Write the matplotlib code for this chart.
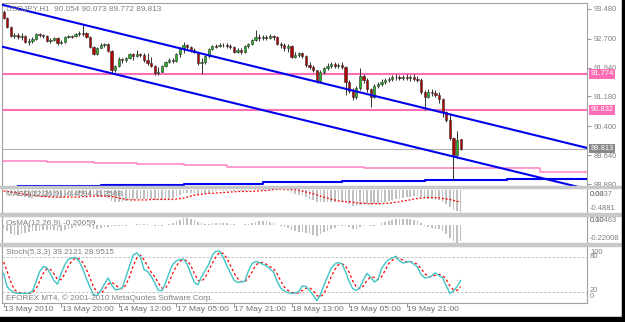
import matplotlib
matplotlib.use('Agg')
import matplotlib.pyplot as plt
import matplotlib.transforms as mtransforms
from matplotlib.patches import Rectangle
import numpy as np

# ---------------- data ----------------
opens = [93.40, 93.24, 93.00, 92.77, 92.79, 92.74, 92.77, 92.61, 92.64, 92.69,
         92.82, 92.79, 92.77, 92.64, 92.66, 92.71, 92.58, 92.61, 92.74, 92.77,
         92.77, 92.82, 92.85, 92.85, 92.74, 92.48, 92.29, 92.45, 92.53, 92.56,
         92.37, 91.87, 91.98, 92.16, 92.14, 92.19, 92.29, 92.24, 92.29, 92.27,
         92.14, 92.06, 91.98, 91.80, 91.82, 91.98, 92.08, 92.14, 92.11, 92.29,
         92.45, 92.53, 92.48, 92.40, 92.35, 92.06, 92.08, 92.24, 92.43, 92.50,
         92.50, 92.53, 92.53, 92.50, 92.48, 92.35, 92.40, 92.35, 92.50, 92.56,
         92.66, 92.74, 92.71, 92.74, 92.71, 92.77, 92.74, 92.56, 92.53, 92.45,
         92.50, 92.22, 92.27, 92.32, 92.24, 92.01, 91.95, 91.87, 91.59, 91.82,
         91.93, 91.98, 92.03, 91.98, 92.01, 91.95, 91.56, 91.32, 91.17, 91.40,
         91.72, 91.61, 91.38, 91.17, 91.45, 91.51, 91.56, 91.61, 91.64, 91.69,
         91.69, 91.66, 91.69, 91.66, 91.69, 91.64, 91.61, 91.30, 91.17, 91.30,
         91.27, 91.22, 91.11, 90.77, 90.56, 90.09, 89.64, 90.054]
closes = [93.24, 93.00, 92.77, 92.79, 92.74, 92.77, 92.61, 92.64, 92.69, 92.82,
          92.79, 92.77, 92.64, 92.66, 92.71, 92.58, 92.61, 92.74, 92.77, 92.75,
          92.82, 92.85, 92.83, 92.74, 92.48, 92.29, 92.45, 92.53, 92.56, 92.37,
          91.87, 91.98, 92.16, 92.14, 92.19, 92.29, 92.24, 92.29, 92.27, 92.14,
          92.06, 91.98, 91.80, 91.82, 91.98, 92.08, 92.14, 92.11, 92.29, 92.45,
          92.53, 92.48, 92.40, 92.35, 92.06, 92.08, 92.24, 92.43, 92.50, 92.49,
          92.53, 92.52, 92.50, 92.48, 92.35, 92.40, 92.35, 92.50, 92.56, 92.66,
          92.74, 92.71, 92.74, 92.71, 92.77, 92.74, 92.56, 92.53, 92.45, 92.50,
          92.22, 92.27, 92.32, 92.24, 92.01, 91.95, 91.87, 91.59, 91.82, 91.93,
          91.98, 92.03, 91.98, 92.01, 91.95, 91.56, 91.32, 91.17, 91.40, 91.72,
          91.61, 91.38, 91.17, 91.45, 91.51, 91.56, 91.61, 91.64, 91.69, 91.68,
          91.66, 91.69, 91.66, 91.69, 91.64, 91.61, 91.30, 91.17, 91.30, 91.27,
          91.22, 91.11, 90.77, 90.56, 90.09, 89.64, 90.04, 89.813]
highs = [93.45, 93.27, 93.03, 92.85, 92.85, 92.85, 92.79, 92.71, 92.74, 92.85,
         92.85, 92.82, 92.79, 92.71, 92.74, 92.74, 92.66, 92.77, 92.79, 92.79,
         92.85, 92.90, 93.06, 92.87, 92.77, 92.50, 92.48, 92.58, 92.58, 92.58,
         92.40, 92.01, 92.22, 92.19, 92.22, 92.32, 92.32, 92.40, 92.32, 92.32,
         92.32, 92.22, 92.01, 91.95, 92.01, 92.11, 92.19, 92.19, 92.32, 92.48,
         92.61, 92.56, 92.50, 92.45, 92.37, 92.19, 92.27, 92.45, 92.53, 92.56,
         92.58, 92.58, 92.58, 92.56, 92.50, 92.45, 92.45, 92.53, 92.58, 92.69,
         92.92, 92.82, 92.79, 92.79, 92.82, 92.79, 92.77, 92.61, 92.58, 92.56,
         92.53, 92.35, 92.35, 92.35, 92.27, 92.08, 92.01, 91.87, 91.87, 91.95,
         92.06, 92.08, 92.08, 92.06, 92.08, 91.98, 91.61, 91.40, 91.45, 91.93,
         91.77, 91.66, 91.40, 91.51, 91.56, 91.64, 91.66, 91.69, 91.74, 91.77,
         91.74, 91.74, 91.77, 91.74, 91.77, 91.72, 91.66, 91.35, 91.38, 91.38,
         91.35, 91.30, 91.14, 90.80, 90.75, 90.12, 90.27, 90.073]
lows = [93.21, 92.98, 92.74, 92.71, 92.69, 92.66, 92.58, 92.53, 92.58, 92.66,
        92.74, 92.71, 92.61, 92.58, 92.64, 92.53, 92.56, 92.58, 92.71, 92.71,
        92.74, 92.77, 92.77, 92.71, 92.45, 92.27, 92.27, 92.45, 92.48, 92.35,
        91.80, 91.82, 91.95, 92.06, 92.08, 92.16, 92.14, 92.22, 92.22, 92.08,
        92.01, 91.95, 91.74, 91.74, 91.82, 91.95, 92.06, 92.06, 92.08, 92.22,
        92.32, 92.43, 92.35, 92.32, 92.01, 91.77, 92.03, 92.19, 92.40, 92.45,
        92.48, 92.48, 92.45, 92.43, 92.32, 92.32, 92.29, 92.32, 92.45, 92.53,
        92.64, 92.64, 92.66, 92.66, 92.69, 92.66, 92.53, 92.45, 92.37, 92.35,
        92.19, 92.19, 92.22, 92.19, 91.95, 91.90, 91.82, 91.53, 91.56, 91.77,
        91.87, 91.93, 91.93, 91.93, 91.90, 91.22, 91.27, 91.09, 91.11, 91.35,
        91.53, 91.30, 90.90, 91.14, 91.40, 91.45, 91.51, 91.56, 91.59, 91.61,
        91.61, 91.61, 91.61, 91.59, 91.59, 91.56, 91.25, 90.82, 91.14, 91.19,
        91.17, 91.01, 90.64, 90.51, 90.04, 88.99, 89.56, 89.772]

macd_main = [-0.00, -0.03, -0.07, -0.10, -0.12, -0.13, -0.15, -0.16, -0.16, -0.15,
             -0.15, -0.15, -0.15, -0.15, -0.15, -0.16, -0.16, -0.15, -0.14, -0.13,
             -0.12, -0.11, -0.10, -0.10, -0.11, -0.14, -0.15, -0.15, -0.15, -0.17,
             -0.23, -0.25, -0.25, -0.25, -0.24, -0.22, -0.21, -0.20, -0.19, -0.19,
             -0.19, -0.20, -0.22, -0.22, -0.21, -0.19, -0.18, -0.16, -0.13, -0.10,
             -0.07, -0.06, -0.06, -0.06, -0.08, -0.09, -0.08, -0.06, -0.04, -0.03,
             -0.02, -0.02, -0.02, -0.02, -0.03, -0.03, -0.03, -0.02, -0.01, 0.00,
             0.02, 0.03, 0.04, 0.04, 0.04, 0.04, 0.02, 0.00, -0.02, -0.03,
             -0.06, -0.08, -0.10, -0.11, -0.15, -0.18, -0.21, -0.26, -0.26, -0.26,
             -0.26, -0.25, -0.25, -0.24, -0.23, -0.26, -0.30, -0.34, -0.34, -0.31,
             -0.29, -0.29, -0.31, -0.30, -0.29, -0.27, -0.25, -0.23, -0.21, -0.19,
             -0.18, -0.16, -0.15, -0.14, -0.13, -0.13, -0.15, -0.18, -0.19, -0.20,
             -0.21, -0.22, -0.26, -0.30, -0.36, -0.42, -0.44, -0.4594]
macd_signal = [-0.02, -0.03, -0.04, -0.05, -0.06, -0.08, -0.09, -0.10, -0.11, -0.12,
               -0.13, -0.14, -0.14, -0.15, -0.15, -0.15, -0.15, -0.15, -0.15, -0.15,
               -0.15, -0.15, -0.14, -0.14, -0.13, -0.13, -0.13, -0.13, -0.13, -0.13,
               -0.14, -0.15, -0.17, -0.18, -0.20, -0.21, -0.21, -0.21, -0.21, -0.21,
               -0.21, -0.20, -0.20, -0.20, -0.20, -0.20, -0.20, -0.20, -0.19, -0.18,
               -0.17, -0.15, -0.13, -0.11, -0.10, -0.09, -0.08, -0.07, -0.07, -0.06,
               -0.06, -0.05, -0.05, -0.04, -0.04, -0.03, -0.03, -0.03, -0.03, -0.03,
               -0.02, -0.02, -0.01, -0.01, 0.00, 0.01, 0.02, 0.02, 0.02, 0.02,
               0.01, 0.01, 0.00, -0.02, -0.04, -0.06, -0.08, -0.10, -0.13, -0.15,
               -0.17, -0.19, -0.21, -0.23, -0.24, -0.25, -0.25, -0.26, -0.27, -0.28,
               -0.28, -0.29, -0.29, -0.29, -0.29, -0.29, -0.28, -0.28, -0.27, -0.26,
               -0.25, -0.23, -0.22, -0.21, -0.19, -0.18, -0.17, -0.16, -0.16, -0.16,
               -0.16, -0.17, -0.18, -0.19, -0.20, -0.22, -0.24, -0.2588]
osma = [-0.04, -0.08, -0.11, -0.12, -0.12, -0.11, -0.10, -0.09, -0.08, -0.07,
        -0.07, -0.06, -0.06, -0.06, -0.06, -0.07, -0.07, -0.06, -0.05, -0.04,
        -0.03, -0.02, -0.02, -0.02, -0.03, -0.05, -0.05, -0.04, -0.03, -0.03,
        -0.02, -0.01, -0.01, -0.01, -0.01, 0.00, 0.00, 0.01, 0.01, 0.01,
        0.01, 0.00, -0.01, -0.01, -0.01, 0.00, 0.01, 0.02, 0.04, 0.06,
        0.08, 0.08, 0.07, 0.06, 0.03, 0.02, 0.01, 0.01, 0.02, 0.02,
        0.02, 0.02, 0.02, 0.01, 0.01, 0.00, 0.00, 0.01, 0.01, 0.02,
        0.03, 0.04, 0.04, 0.04, 0.03, 0.02, 0.00, -0.02, -0.03, -0.04,
        -0.06, -0.08, -0.09, -0.09, -0.10, -0.11, -0.12, -0.13, -0.11, -0.09,
        -0.07, -0.05, -0.04, -0.02, -0.01, -0.01, -0.03, -0.05, -0.05, -0.03,
        -0.01, 0.00, -0.02, -0.01, 0.00, 0.02, 0.03, 0.05, 0.06, 0.07,
        0.07, 0.07, 0.07, 0.07, 0.06, 0.05, 0.02, -0.02, -0.03, -0.04,
        -0.05, -0.05, -0.08, -0.11, -0.16, -0.20, -0.22, -0.20059]
stoch_main = [52, 28, 22, 18, 17, 17, 17, 17, 21, 37,
              55, 64, 62, 51, 39, 33, 52, 67, 77, 79,
              80, 73, 60, 43, 28, 14, 14, 22, 33, 44,
              32, 23, 24, 27, 46, 65, 84, 88, 81, 59,
              55, 47, 35, 22, 22, 35, 53, 68, 74, 76,
              77, 68, 52, 36, 32, 46, 57, 68, 84, 91,
              91, 80, 66, 53, 40, 36, 37, 38, 56, 69,
              73, 71, 68, 65, 60, 54, 38, 26, 21, 18,
              17, 17, 20, 30, 29, 22, 14, 4, 14, 31,
              46, 61, 68, 71, 69, 55, 38, 25, 22, 27,
              41, 52, 45, 37, 41, 60, 70, 76, 79, 82,
              74, 70, 72, 73, 68, 63, 50, 44, 45, 48,
              53, 48, 44, 30, 17, 21, 29, 39.2121]
stoch_signal = [72, 55, 37, 23, 19, 17, 17, 17, 18, 25,
                38, 52, 60, 59, 51, 41, 41, 51, 65, 74,
                79, 77, 71, 59, 44, 28, 19, 17, 23, 33,
                36, 33, 26, 25, 32, 46, 65, 79, 84, 76,
                65, 54, 46, 35, 26, 26, 37, 52, 65, 73,
                76, 74, 66, 52, 40, 38, 45, 57, 70, 81,
                89, 87, 79, 66, 53, 43, 38, 37, 44, 54,
                66, 71, 71, 68, 64, 60, 51, 39, 28, 22,
                19, 17, 18, 22, 26, 27, 22, 13, 11, 16,
                30, 46, 58, 67, 69, 65, 54, 39, 28, 25,
                30, 40, 46, 45, 41, 46, 57, 69, 75, 79,
                78, 75, 72, 72, 71, 68, 60, 52, 46, 46,
                49, 50, 48, 41, 30, 23, 22, 28.9515]

# channel trend lines (two end points each, bar index / price)
channel_x = [-1.0, 162.1]
channel_upper = [93.60, 89.83]
channel_lower = [92.50, 88.75]
# horizontal levels
levels = [91.774, 90.832]
last_price = 89.813
# step-like moving averages in the main window
pink_ma_x = [-1, 12, 25, 37, 50, 62, 75, 100, 149, 163]
pink_ma_v = [89.49, 89.45, 89.43, 89.40, 89.38, 89.34, 89.33, 89.29, 89.20, 89.20]
blue_ma_x = [4, 27, 50, 72, 94, 117, 140, 163]
blue_ma_v = [88.84, 88.86, 88.89, 88.93, 88.96, 88.99, 89.01, 89.01]

price_ticks = [93.480, 92.700, 91.940, 91.180, 90.400, 89.640, 88.880]
time_tick_bars = [0, 16, 32, 48, 64, 80, 96, 112]
time_tick_labels = ['13 May 2010', '13 May 20:00', '14 May 12:00', '17 May 05:00',
                    '17 May 21:00', '18 May 13:00', '19 May 05:00', '19 May 21:00']

# ---------------- figure ----------------
W, H = 625, 322
fig = plt.figure(figsize=(W / 100, H / 100), dpi=100)
fig.patch.set_facecolor('white')
FONT = ['Liberation Sans', 'DejaVu Sans']
TXT = '#808080'
plt.rcParams['font.family'] = FONT


def px_axes(x0, y0, x1, y1):
    return fig.add_axes([x0 / W, 1 - y1 / H, (x1 - x0) / W, (y1 - y0) / H])


def ftext(x, y, s, **kw):
    kw.setdefault('color', TXT)
    kw.setdefault('fontsize', 5.4)
    kw.setdefault('va', 'center')
    return fig.text(x / W, 1 - y / H, s, **kw)


XL = (-0.45, 162.1)


def style(a):
    a.set_xlim(XL)
    a.set_facecolor('white')
    for s in a.spines.values():
        s.set_color('#a0a0a0')
        s.set_linewidth(0.8)
    a.set_xticks([])


idx = np.arange(len(closes))
o = np.array(opens); c = np.array(closes); h = np.array(highs); l = np.array(lows)

# main window
ax = px_axes(2, 3, 587, 186)
style(ax)
ax.set_ylim(88.83, 93.633)
ax.vlines(idx, l, h, color='#303030', lw=0.7, zorder=3)
up = c >= o
bb = np.minimum(o, c)
bh = np.maximum(np.abs(c - o), 0.008)
ax.bar(idx[up], bh[up], bottom=bb[up], width=0.62, color='#22b422',
       edgecolor='#303030', lw=0.4, zorder=4)
ax.bar(idx[~up], bh[~up], bottom=bb[~up], width=0.62, color='#b00000',
       edgecolor='#303030', lw=0.4, zorder=4)
ax.plot(channel_x, channel_upper, color='#0000ee', lw=1.5, zorder=5)
ax.plot(channel_x, channel_lower, color='#0000ee', lw=1.5, zorder=5)
for lv in levels:
    ax.axhline(lv, color='#ff6eb4', lw=1.5, zorder=2)
ax.axhline(last_price, color='#b0b0b0', lw=0.8, zorder=1)
ax.step(pink_ma_x, pink_ma_v, where='post', color='#ff80c0', lw=1.1, zorder=2)
ax.step(blue_ma_x, blue_ma_v, where='post', color='#0000ee', lw=1.5, zorder=2)
ax.yaxis.tick_right()
ax.set_yticks(price_ticks)
ax.set_yticklabels(['%.3f' % v for v in price_ticks])
ax.tick_params(axis='y', length=3, width=0.6, color='#808080', pad=2,
               labelsize=5.4, labelcolor=TXT)
ax.text(0.006, 0.972, 'USDJPY,H1  %.3f %.3f %.3f %.3f' % (opens[-1], highs[-1], lows[-1], closes[-1]),
        transform=ax.transAxes, fontsize=5.9, color=TXT, va='center', ha='left', zorder=10)
ytr = ax.get_yaxis_transform()
for lv in levels:
    ax.text(1.006, lv, '%.3f' % lv, transform=ytr, fontsize=5.4, color='white',
            va='center', ha='left', clip_on=False, zorder=10,
            bbox=dict(boxstyle='square,pad=0.18', fc='#ff6eb4', ec='none'))
ax.text(1.006, last_price, '%.3f' % last_price, transform=ytr, fontsize=5.4, color='white',
        va='center', ha='left', clip_on=False, zorder=10,
        bbox=dict(boxstyle='square,pad=0.18', fc='#8a8a8a', ec='none'))

# MACD window
am = px_axes(2, 188, 587, 213)
style(am)
am.set_ylim(-0.4881, 0.0437)
am.set_yticks([])
am.bar(idx, macd_main, width=0.45, color='#c0c0c0', zorder=2)
am.plot(idx, macd_signal, color='#ff0000', lw=0.9, ls=(0, (1.5, 1.5)), zorder=3)
am.text(0.006, 0.72, 'MACD(12,26,9) %.4f %.4f' % (macd_main[-1], macd_signal[-1]),
        transform=am.transAxes, fontsize=5.9, color=TXT, va='center', ha='left', zorder=10)
ftext(590, 194, '0.0437')
ftext(590, 194, '0.00')
ftext(590, 208, '-0.4881')

# OsMA window
ao = px_axes(2, 216, 587, 243)
style(ao)
ao.set_ylim(-0.22008, 0.10463)
ao.set_yticks([])
ao.bar(idx, osma, width=0.45, color='#c0c0c0', zorder=2)
ao.text(0.006, 0.72, 'OsMA(12,26,9) %.5f' % osma[-1],
        transform=ao.transAxes, fontsize=5.9, color=TXT, va='center', ha='left', zorder=10)
ftext(590, 221, '0.10463')
ftext(590, 221, '0.00')
ftext(590, 238, '-0.22008')

# Stochastic window
ast = px_axes(2, 246, 587, 303)
style(ast)
ast.set_ylim(0, 100)
ast.set_yticks([])
for lv in (20, 80):
    ast.axhline(lv, color='#b8b8b8', lw=0.6, ls=(0, (3, 2)), zorder=1)
ast.plot(idx, stoch_main, color='#40c4c4', lw=1.0, zorder=3)
ast.plot(idx, stoch_signal, color='#ff0000', lw=0.9, ls=(0, (2, 2)), zorder=2)
ast.text(0.006, 0.89, 'Stoch(5,3,3) %.4f %.4f' % (stoch_main[-1], stoch_signal[-1]),
         transform=ast.transAxes, fontsize=5.9, color=TXT, va='center', ha='left', zorder=10)
ast.text(0.006, 0.09, 'EFOREX MT4, \u00a9 2001-2010 MetaQuotes Software Corp.',
         transform=ast.transAxes, fontsize=5.9, color=TXT, va='center', ha='left', zorder=10)
ftext(590, 252, '100')
ftext(590, 257, '80')
ftext(590, 291, '20')
ftext(590, 297, '0')
ast.set_xticks(time_tick_bars)
ast.tick_params(axis='x', length=3, width=0.6, color='#808080', labelbottom=False)
xtr = mtransforms.blended_transform_factory(ast.transData, ast.transAxes)
for b, lab in zip(time_tick_bars, time_tick_labels):
    ast.text(b + 0.1, -0.06, lab, transform=xtr, fontsize=6.1, color='#707070',
             ha='left', va='top', clip_on=False)

# window separators and black frame
for y0, y1 in [(186, 188), (213, 216), (243, 246)]:
    fig.patches.append(Rectangle((0, 1 - y1 / H), 621 / W, (y1 - y0) / H,
                                 transform=fig.transFigure, color='#c8c8c8', zorder=0))
fig.patches.append(Rectangle((0, 0), 1, 5 / H, transform=fig.transFigure,
                             color='black', zorder=20))
fig.patches.append(Rectangle((622 / W, 0), 3 / W, 1, transform=fig.transFigure,
                             color='black', zorder=20))

fig.savefig('out.png', dpi=100)
